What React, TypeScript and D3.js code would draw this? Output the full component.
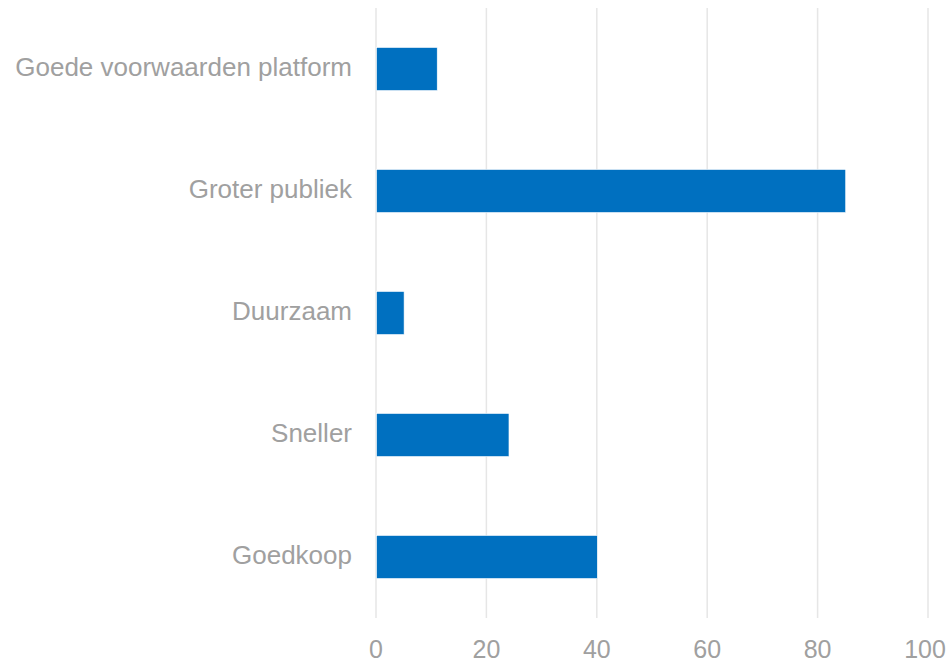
import React from "react";
import * as d3 from "d3";

const categories = ["Goede voorwaarden platform", "Groter publiek", "Duurzaam", "Sneller", "Goedkoop"];
const values = [11, 85, 5, 24, 40];
const xTicks = [0, 20, 40, 60, 80, 100];

export default function App() {
  const width = 951;
  const height = 662;
  const left = 376;
  const right = 928;
  const top = 8;
  const bottom = 618;

  const x = d3.scaleLinear().domain([0, 100]).range([left, right]);
  const y = d3
    .scaleBand<string>()
    .domain(categories)
    .range([top, bottom])
    .paddingInner(0.647)
    .paddingOuter(0.3235);

  const font = "'Liberation Sans', Arial, Helvetica, sans-serif";

  return (
    <svg
      width={width}
      height={height}
      style={{ position: "absolute", left: 0, top: 0, background: "#fff" }}
    >
      {xTicks.map((t) => (
        <line
          key={"g" + t}
          x1={x(t)}
          x2={x(t)}
          y1={top}
          y2={bottom}
          stroke="#e6e6e6"
          strokeWidth={1.5}
        />
      ))}
      {categories.map((c, i) => (
        <rect
          key={c}
          x={x(0) + 0.5}
          y={y(c)!}
          width={x(values[i]) - x(0)}
          height={y.bandwidth()}
          fill="#0070c0"
          stroke="#ffffff"
          strokeWidth={0.6}
        />
      ))}
      {categories.map((c) => (
        <text
          key={"l" + c}
          x={352}
          y={y(c)! + y.bandwidth() / 2}
          dy="0.26em"
          textAnchor="end"
          fontFamily={font}
          fontSize={26}
          fill="#a0a0a0"
        >
          {c}
        </text>
      ))}
      {xTicks.map((t) => (
        <text
          key={"t" + t}
          x={t === 100 ? x(t) - 3 : x(t)}
          y={658}
          textAnchor="middle"
          fontFamily={font}
          fontSize={25}
          fill="#a0a0a0"
        >
          {t}
        </text>
      ))}
    </svg>
  );
}
